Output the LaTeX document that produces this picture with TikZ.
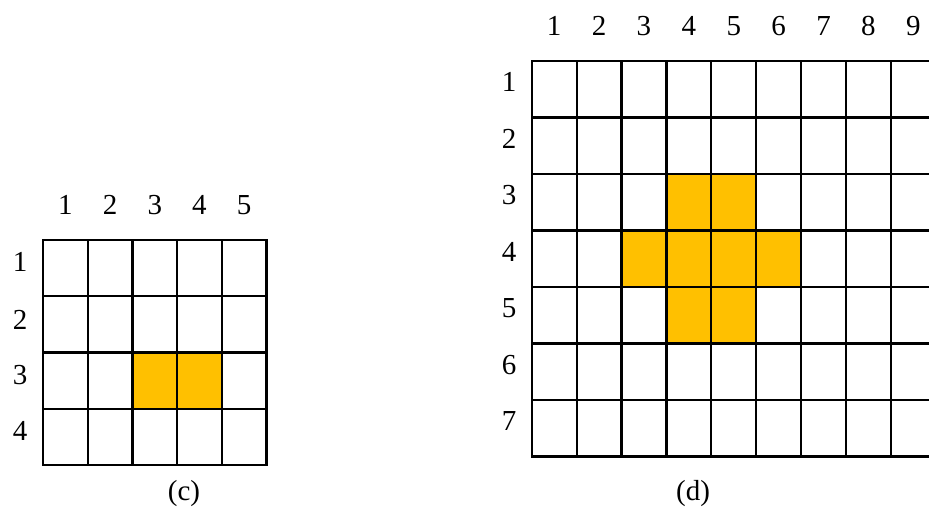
\documentclass[tikz,border=0pt]{standalone}
\usepackage{fontspec}
\setmainfont{Liberation Serif}
\definecolor{cellorange}{HTML}{FFC000}
\begin{document}
\begin{tikzpicture}[x=1pt,y=-1pt,
  lbl/.style={inner sep=0pt,font=\fontsize{29}{32}\selectfont},
  gridline/.style={line width=2.2pt,line cap=rect},
  hot/.style={fill=cellorange,draw=none}]
\useasboundingbox (0,0) rectangle (929,512);
\begin{scope}
\clip (0,0) rectangle (929,512);
% ---------- grid (c) ----------
\def\cx{43}\def\cdx{44.7}\def\cy{240}\def\cdy{56.25}
\foreach \c/\r in {3/3,4/3}{
  \fill[hot] ({\cx+(\c-1)*\cdx},{\cy+(\r-1)*\cdy}) rectangle ({\cx+\c*\cdx},{\cy+\r*\cdy});
}
\foreach \i in {0,...,5}{
  \draw[gridline] ({\cx+\i*\cdx},\cy) -- ({\cx+\i*\cdx},{\cy+4*\cdy});
}
\foreach \j in {0,...,4}{
  \draw[gridline] (\cx,{\cy+\j*\cdy}) -- ({\cx+5*\cdx},{\cy+\j*\cdy});
}
\foreach \c in {1,...,5}{
  \node[lbl] (ccol\c) at ({\cx+(\c-0.5)*\cdx},205) {\c};
}
\foreach \r/\yy in {1/262,2/320,3/375,4/431}{
  \node[lbl] (crow\r) at (20,\yy) {\r};
}
\node[lbl] (clabel) at (184,494) {(c)};
% ---------- grid (d) ----------
\def\dx{531.7}\def\ddx{44.9}\def\dy{61}\def\ddy{56.5}
\foreach \c/\r in {4/3,5/3,3/4,4/4,5/4,6/4,4/5,5/5}{
  \fill[hot] ({\dx+(\c-1)*\ddx},{\dy+(\r-1)*\ddy}) rectangle ({\dx+\c*\ddx},{\dy+\r*\ddy});
}
\foreach \i in {0,...,9}{
  \draw[gridline] ({\dx+\i*\ddx},\dy) -- ({\dx+\i*\ddx},{\dy+7*\ddy});
}
\foreach \j in {0,...,7}{
  \draw[gridline] (\dx,{\dy+\j*\ddy}) -- ({\dx+9*\ddx},{\dy+\j*\ddy});
}
\foreach \c in {1,...,9}{
  \node[lbl] (dcol\c) at ({\dx+(\c-0.5)*\ddx},26) {\c};
}
\foreach \r in {1,...,7}{
  \node[lbl] (drow\r) at (509,{\dy+(\r-0.5)*\ddy-7}) {\r};
}
\node[lbl] (dlabel) at (693,494) {(d)};
\end{scope}
\end{tikzpicture}
\end{document}
